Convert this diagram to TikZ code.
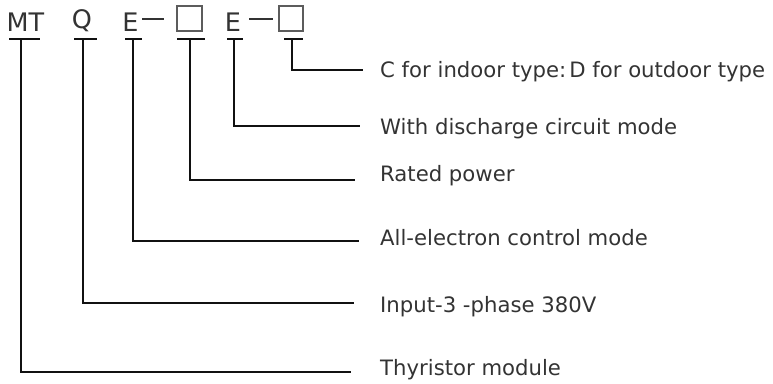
\documentclass[tikz,border=0pt]{standalone}
\usepackage{fontspec}
\setmainfont{DejaVu Sans}
\definecolor{txt}{HTML}{333333}
\definecolor{ln}{HTML}{111111}
\begin{document}
\begin{tikzpicture}[x=1pt,y=-1pt,
  code/.style={inner sep=0pt,anchor=base,text=txt,font=\fontsize{25.5}{26}\selectfont},
  lbl/.style={inner sep=0pt,anchor=base west,text=txt,font=\fontsize{21.2}{22}\selectfont},
  lead/.style={draw=ln,line width=2.2pt},
  bar/.style={draw=ln,line width=2.2pt},
  slot/.style={draw=txt!80,line width=1.2pt},
  hy/.style={draw=txt,line width=2pt}]
\useasboundingbox (0,0) rectangle (773,383);
% code letters
\node[code] (mt) at (25.5,31) {MT};
\node[code] (q) at (82,28) {Q};
\node[code] (e1) at (130.5,31) {E};
\node[code] (e2) at (233,31) {E};
\coordinate (d1a) at (142,19); \coordinate (d1b) at (164,19);
\coordinate (d2a) at (249,19); \coordinate (d2b) at (273,19);
\draw[hy] (d1a) -- (d1b);
\draw[hy] (d2a) -- (d2b);
\node[slot,minimum width=25pt,minimum height=25pt,inner sep=0pt] (b1) at (189.5,18.5) {};
\node[slot,minimum width=24pt,minimum height=25pt,inner sep=0pt] (b2) at (291,18.5) {};
% labels
\node[lbl] (lc) at (380,77) {C for indoor type:\hspace{3pt}D for outdoor type};
\node[lbl] (lw) at (380,134) {With discharge circuit mode};
\node[lbl] (lr) at (380,181) {Rated power};
\node[lbl] (la) at (380,245) {All-electron control mode};
\node[lbl] (li) at (380,312) {Input-3 -phase 380V};
\node[lbl] (lt) at (380,375) {Thyristor module};
% line end coordinates
\coordinate (ec) at (363,70);
\coordinate (ew) at (360,126);
\coordinate (er) at (355,180);
\coordinate (ea) at (359,241);
\coordinate (ei) at (354,303);
\coordinate (et) at (351,372);
% T bars
\coordinate (tmt) at (21,39);  \draw[bar] (9,39) -- (40,39);
\coordinate (tq) at (83,39);   \draw[bar] (74,39) -- (97,39);
\coordinate (te1) at (133,39); \draw[bar] (125,39) -- (142,39);
\coordinate (tb1) at (190,39); \draw[bar] (177,39) -- (205,39);
\coordinate (te2) at (234,39); \draw[bar] (227,39) -- (243,39);
\coordinate (tb2) at (292,39); \draw[bar] (284,39) -- (303,39);
% leaders
\draw[lead] (tb2) |- (ec);
\draw[lead] (te2) |- (ew);
\draw[lead] (tb1) |- (er);
\draw[lead] (te1) |- (ea);
\draw[lead] (tq) |- (ei);
\draw[lead] (tmt) |- (et);
\end{tikzpicture}
\end{document}
